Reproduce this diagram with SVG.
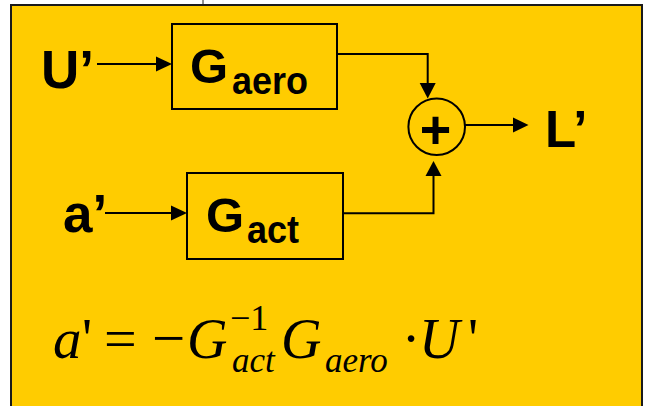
<svg xmlns="http://www.w3.org/2000/svg" width="646" height="406" viewBox="0 0 646 406">
<style>
.bg{fill:#FFCC00;stroke:#1a1a1a;stroke-width:2}
.box{fill:#FFCC00;stroke:#000;stroke-width:2}
.ln{fill:none;stroke:#000;stroke-width:2}
.ah{fill:#000;stroke:none}
.lbl{font-family:"Liberation Sans",Arial,sans-serif;font-weight:bold;fill:#000}
.m{font-family:"Liberation Serif","Times New Roman",serif;fill:#000}
.i{font-style:italic}
</style>
<rect width="646" height="406" fill="#ffffff"/>
<line x1="203" y1="0" x2="203" y2="5" stroke="#222" stroke-width="1"/>
<rect class="bg" x="11" y="5" width="631" height="410"/>

<g id="input-U">
<text class="lbl" x="41" y="88" font-size="53">U’</text>
</g>
<g id="input-a">
<text class="lbl" x="63" y="232" font-size="53">a’</text>
</g>
<g id="G-aero">
<rect class="box" x="172" y="24" width="165" height="85"/>
<text class="lbl" x="190" y="83" font-size="49">G</text>
<text class="lbl" x="232" y="94" font-size="39" textLength="76" lengthAdjust="spacingAndGlyphs">aero</text>
</g>
<g id="G-act">
<rect class="box" x="187" y="173" width="156" height="86"/>
<text class="lbl" x="206" y="232" font-size="49">G</text>
<text class="lbl" x="247" y="243" font-size="39" textLength="52" lengthAdjust="spacingAndGlyphs">act</text>
</g>
<g id="sum">
<circle class="ln" cx="436.7" cy="126.7" r="28.3"/>
<text class="lbl" x="435.5" y="147.5" font-size="54" text-anchor="middle">+</text>
</g>
<g id="output-L">
<text class="lbl" x="545" y="147" font-size="51">L’</text>
</g>

<g id="connectors">
<line class="ln" x1="97" y1="64" x2="157" y2="64"/>
<polygon class="ah" points="156,56.5 172,64 156,71.5"/>
<line class="ln" x1="105" y1="213" x2="172" y2="213"/>
<polygon class="ah" points="171,205.5 187,213 171,220.5"/>
<polyline class="ln" points="337,54 427.7,54 427.7,84"/>
<polygon class="ah" points="419.7,83 435.7,83 427.7,98.5"/>
<polyline class="ln" points="343,213.3 433.5,213.3 433.5,175"/>
<polygon class="ah" points="425.5,176 441.5,176 433.5,161"/>
<line class="ln" x1="465" y1="125" x2="514" y2="125"/>
<polygon class="ah" points="513,117.5 528.5,125 513,132.5"/>
</g>

<g id="formula">
<text class="m i" x="53" y="358" font-size="57">a</text>
<text class="m" x="82" y="358" font-size="56">'</text>
<text class="m" x="104" y="358" font-size="58">=</text>
<text class="m" x="152" y="358" font-size="59">−</text>
<text class="m i" x="187" y="358" font-size="56">G</text>
<text class="m" x="230" y="330" font-size="36">−1</text>
<text class="m i" x="232" y="372" font-size="35">act</text>
<text class="m i" x="281" y="358" font-size="56">G</text>
<text class="m i" x="325" y="372" font-size="35">aero</text>
<text class="m" x="411" y="358" font-size="56" text-anchor="middle">·</text>
<text class="m i" x="419" y="358" font-size="56">U</text>
<text class="m" x="468" y="358" font-size="56">'</text>
</g>
</svg>
